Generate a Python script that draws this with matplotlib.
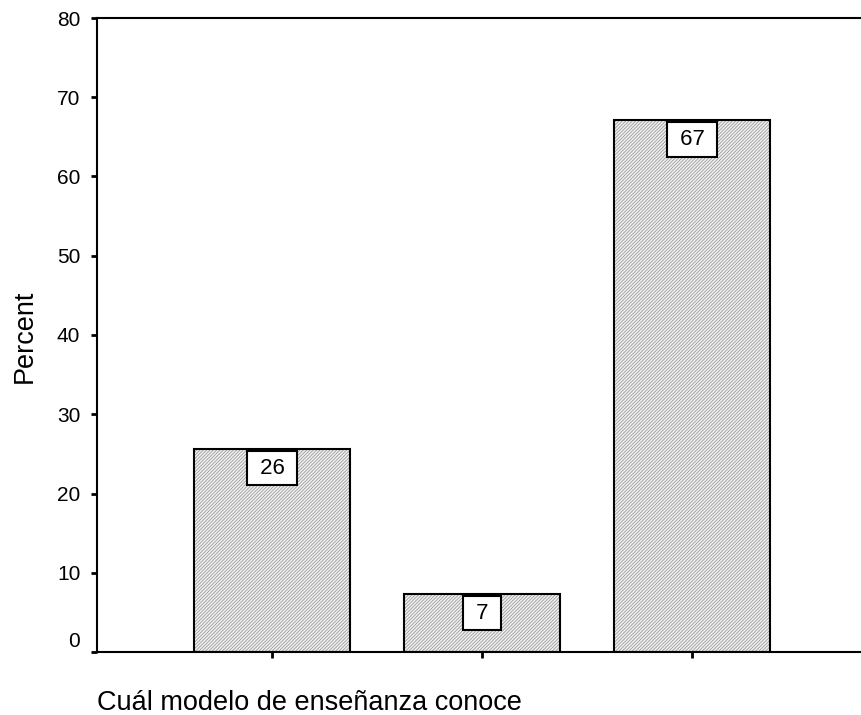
import matplotlib
matplotlib.use("Agg")
import matplotlib.pyplot as plt
from matplotlib.transforms import ScaledTranslation

plt.rcParams['font.family'] = ['Liberation Sans', 'DejaVu Sans']
plt.rcParams['hatch.linewidth'] = 0.6

categories = ["A", "B", "C"]
values = [25.6, 7.3, 67.1]
labels = ["26", "7", "67"]
yticks = [0, 10, 20, 30, 40, 50, 60, 70, 80]

fig = plt.figure(figsize=(8.61, 7.15), dpi=100)
ax = fig.add_axes([97/861, 63/715, 1 - 97/861, (652-18)/715])

x = [1, 2, 3]
w = 156/210
ax.bar(x, values, width=w, color='#f2f2f2', edgecolor='#9a9a9a', hatch='//////////', linewidth=0, zorder=2)
ax.bar(x, values, width=w, fill=False, edgecolor='black', linewidth=1.5, zorder=3)

for xi, v, lab in zip(x, values, labels):
    ax.annotate(' ' + lab + ' ', xy=(xi, v), xytext=(0, -12), textcoords='offset points',
                ha='center', va='center_baseline', fontsize=16, zorder=4,
                bbox=dict(boxstyle='square,pad=0.3', fc='white', ec='black', lw=1.5))

ax.set_xlim(1 - 175/210, 3 + 169/210)
ax.set_ylim(0, 80)
ax.set_yticks(yticks)
ax.set_xticks(x)
ax.set_xticklabels([])
ax.tick_params(axis='y', direction='out', length=4, width=2, labelsize=15, pad=8)
ax.tick_params(axis='x', direction='out', length=4, width=2)
for s in ['left', 'bottom', 'top']:
    ax.spines[s].set_linewidth(1.5)
ax.spines['right'].set_visible(False)

# raise the "0" tick label slightly, as in the reference
zero_lab = ax.yaxis.get_major_ticks()[0].label1
zero_lab.set_transform(zero_lab.get_transform() + ScaledTranslation(0, 9/72, fig.dpi_scale_trans))

fig.text(25/861, 1 - 336/715, 'Percent', fontsize=19.5, rotation=90, ha='center', va='center')
fig.text(97/861, 1 - 710/715, 'Cuál modelo de enseñanza conoce', fontsize=19.5, ha='left', va='baseline')

fig.savefig('out.png', dpi=100)
